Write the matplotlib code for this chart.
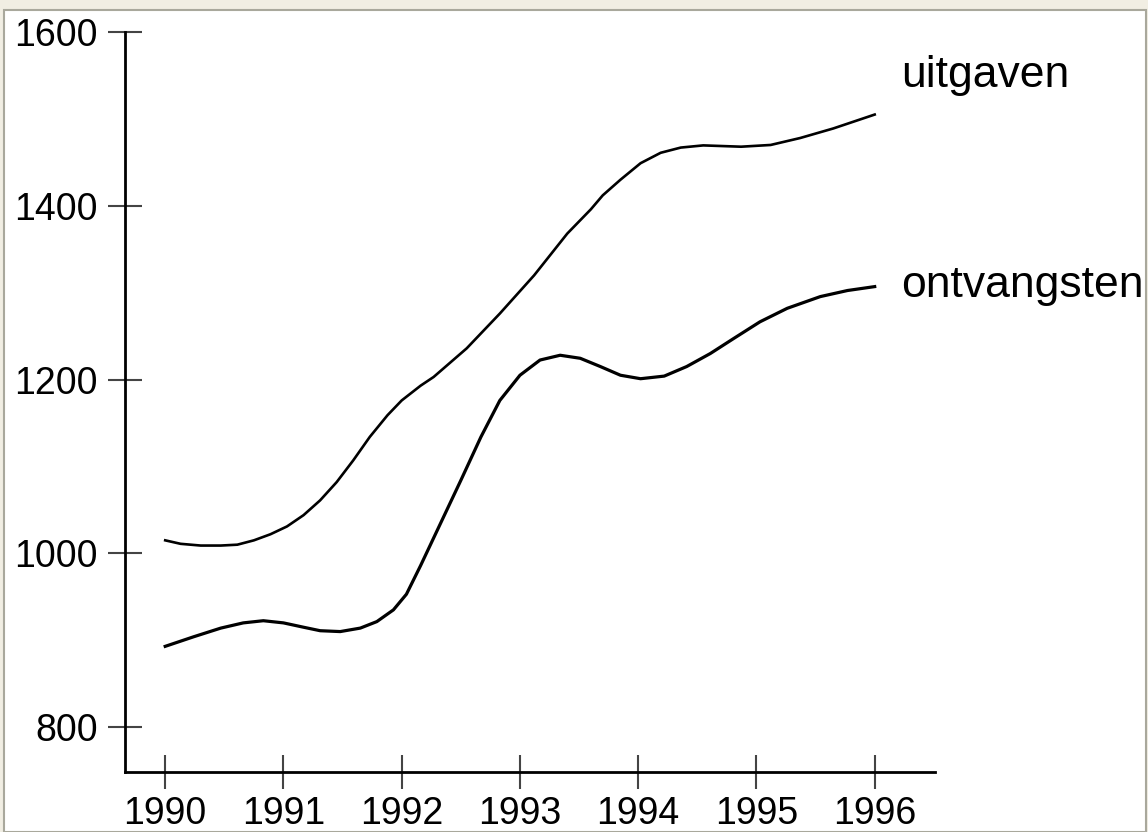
import numpy as np
import matplotlib.pyplot as plt
from matplotlib.patches import Rectangle

plt.rcParams['font.family'] = ['Liberation Sans', 'DejaVu Sans']

# values
uit_years = [1990.00, 1990.13, 1990.30, 1990.47, 1990.61, 1990.75, 1990.89, 1991.03,
             1991.17, 1991.31, 1991.45, 1991.59, 1991.73, 1991.88, 1992.00, 1992.16,
             1992.27, 1992.55, 1992.83, 1993.12, 1993.40, 1993.60, 1993.70, 1993.85,
             1994.02, 1994.19, 1994.36, 1994.55, 1994.87, 1995.12, 1995.37, 1995.65, 1996.00]
uitgaven = [1015, 1011, 1009, 1009, 1010, 1015, 1022, 1031,
            1044, 1061, 1082, 1107, 1134, 1159, 1176, 1193,
            1203, 1236, 1276, 1320, 1368, 1396, 1412, 1430,
            1449, 1461, 1467, 1469.5, 1468, 1470, 1478, 1489, 1505]

ont_years = [1990.00, 1990.24, 1990.47, 1990.66, 1990.83, 1991.00, 1991.17, 1991.31,
             1991.48, 1991.65, 1991.79, 1991.93, 1992.04, 1992.16, 1992.33, 1992.50,
             1992.67, 1992.83, 1993.00, 1993.17, 1993.34, 1993.51, 1993.68, 1993.85,
             1994.02, 1994.22, 1994.41, 1994.61, 1994.81, 1995.03, 1995.26, 1995.54,
             1995.77, 1996.00]
ontvangsten = [893, 904, 914, 920, 922.5, 920, 915, 911,
               910, 914, 921.5, 935, 953, 986, 1035, 1084,
               1134, 1176, 1205, 1222.5, 1228, 1224.5, 1215, 1205,
               1201, 1204, 1215, 1230, 1247.5, 1266.5, 1282, 1295.5,
               1302.5, 1307]

x_ticks = [1990, 1991, 1992, 1993, 1994, 1995, 1996]
y_ticks = [800, 1000, 1200, 1400, 1600]

fig = plt.figure(figsize=(11.48, 8.32), dpi=100, facecolor='#f1eee3')
fig.patches.append(Rectangle((4 / 1148, 0), 1142 / 1148, 822 / 832, transform=fig.transFigure,
                             facecolor='white', edgecolor='#a9a89c', linewidth=1.5, zorder=-1))

ax = fig.add_axes([125 / 1148, 1 - 772 / 832, (935 - 125) / 1148, (772 - 32) / 832])
ax.set_facecolor('none')

ax.plot(uit_years, uitgaven, color='black', lw=1.9, solid_joinstyle='round')
ax.plot(ont_years, ontvangsten, color='black', lw=2.3, solid_joinstyle='round')

ax.text(1996.22, 1536.7, 'uitgaven', fontsize=32, va='baseline', ha='left')
ax.text(1996.22, 1295, 'ontvangsten', fontsize=32, va='baseline', ha='left', clip_on=False)

ax.set_xlim(1989.66, 1996.51)
ax.set_ylim(748.4, 1600)
ax.set_xticks(x_ticks)
ax.set_yticks(y_ticks)
ax.tick_params(direction='inout', length=25, width=1.5, color='#444444', labelsize=27)
ax.tick_params(axis='y', pad=7)
ax.tick_params(axis='x', pad=5)

for s in ['top', 'right']:
    ax.spines[s].set_visible(False)
for s in ['left', 'bottom']:
    ax.spines[s].set_linewidth(2.0)

plt.savefig('out.png', dpi=100)
plt.close()
